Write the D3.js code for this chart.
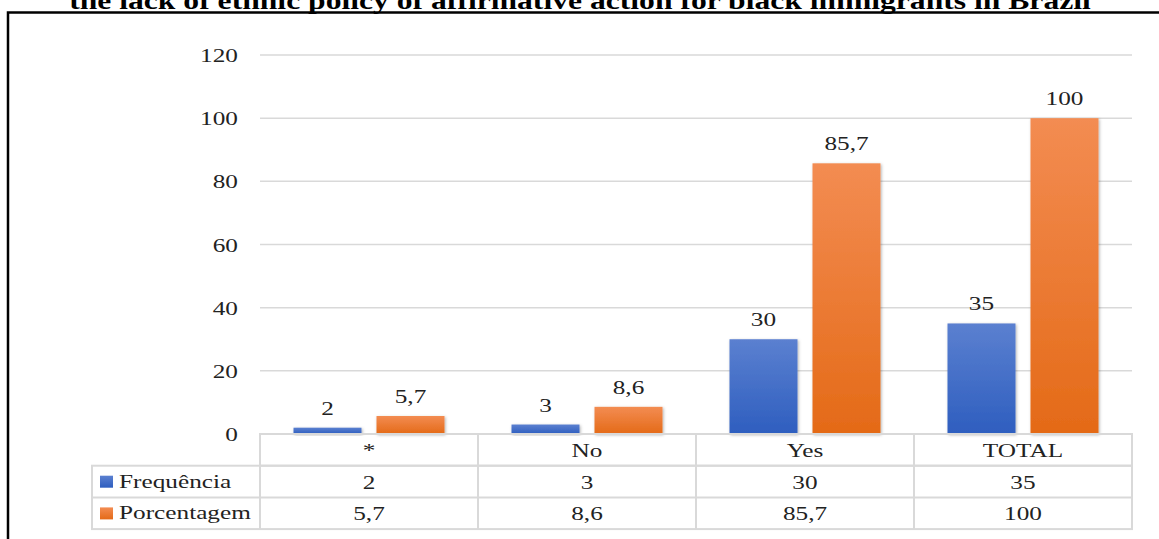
<!DOCTYPE html>
<html>
<head>
<meta charset="utf-8">
<script src="https://cdnjs.cloudflare.com/ajax/libs/d3/7.8.5/d3.min.js"></script>
<style>
  body { margin: 0; background: #fff; }
  text { font-family: "Liberation Serif", "Times New Roman", serif; fill: #222; }
</style>
</head>
<body>
<svg id="chart" width="1159" height="539"></svg>
<script>
// chart values
var categories = ["*", "No", "Yes", "TOTAL"];
var seriesNames = ["Frequência", "Porcentagem"];
var frequencia = [2, 3, 30, 35];
var porcentagem = [5.7, 8.6, 85.7, 100];
var yTicks = [0, 20, 40, 60, 80, 100, 120];
var title = "the lack of ethnic policy of affirmative action for black immigrants in Brazil";

var svg = d3.select("#chart"),
    width = +svg.attr("width"),
    height = +svg.attr("height");

var fmt = function (v) { return String(v).replace(".", ","); };
var series = [frequencia, porcentagem];
var stretch = 1.33; // the original text is drawn wide

// put a text at (fx, fy) and widen it
function place(sel, fx, fy, k) {
    sel.attr("transform", function (d, i) {
        return "translate(" + fx(d, i) + "," + fy(d, i) + ") scale(" + (k || stretch) + ",1)";
    });
}

// gradients for the bars
var defs = svg.append("defs");
var grads = [["#5b80d0", "#2e5ebf"], ["#f38c52", "#e46a17"]];
grads.forEach(function (c, i) {
    var g = defs.append("linearGradient").attr("id", "grad" + i)
        .attr("x1", 0).attr("y1", 0).attr("x2", 0).attr("y2", 1);
    g.append("stop").attr("offset", "0%").attr("stop-color", c[0]);
    g.append("stop").attr("offset", "100%").attr("stop-color", c[1]);
});
var shadow = defs.append("filter").attr("id", "shadow")
    .attr("x", "-20%").attr("y", "-20%").attr("width", "140%").attr("height", "140%");
shadow.append("feDropShadow").attr("dx", 1).attr("dy", 1).attr("stdDeviation", 1.5)
    .attr("flood-color", "#000").attr("flood-opacity", 0.3);

// title, clipped by the top of the page
svg.append("text")
    .attr("text-anchor", "middle")
    .style("font-weight", "bold")
    .style("font-size", "25px")
    .style("fill", "#000")
    .text(title)
    .call(place, function () { return 580; }, function () { return 9; }, 1.265);

// frame
svg.append("path")
    .attr("d", "M8," + height + "V12.5H" + width)
    .attr("fill", "none").attr("stroke", "#000").attr("stroke-width", 2.5);

var plotLeft = 260, plotRight = 1132;
var x = d3.scaleBand().domain(categories).range([plotLeft, plotRight]);
var y = d3.scaleLinear().domain([0, 120]).range([434, 55]);

var barW = 68, gap = 15;

// gridlines
svg.append("g").selectAll("line")
    .data(yTicks.filter(function (d) { return d > 0; }))
    .enter().append("line")
    .attr("x1", plotLeft).attr("x2", plotRight)
    .attr("y1", function (d) { return y(d); })
    .attr("y2", function (d) { return y(d); })
    .attr("stroke", "#d9d9d9").attr("stroke-width", 1.5);

// y tick labels
svg.append("g").selectAll("text")
    .data(yTicks)
    .enter().append("text")
    .attr("text-anchor", "end")
    .style("font-size", "19px")
    .text(function (d) { return d; })
    .call(place, function () { return 238; }, function (d) { return y(d) + 7; });

// bars
var groups = svg.append("g").selectAll("g")
    .data(series)
    .enter().append("g");

function barCenter(d) {
    var c = x(d.c) + x.bandwidth() / 2;
    return d.i === 0 ? c - gap / 2 - barW / 2 : c + gap / 2 + barW / 2;
}
function cells(s, i) {
    return s.map(function (v, j) { return { v: v, c: categories[j], i: i }; });
}

groups.selectAll("rect")
    .data(cells)
    .enter().append("rect")
    .attr("x", function (d) { return barCenter(d) - barW / 2; })
    .attr("y", function (d) { return y(d.v); })
    .attr("width", barW)
    .attr("height", function (d) { return y(0) - y(d.v); })
    .attr("fill", function (d) { return "url(#grad" + d.i + ")"; })
    .attr("filter", "url(#shadow)");

groups.selectAll("text")
    .data(cells)
    .enter().append("text")
    .attr("text-anchor", "middle")
    .style("font-size", "19px")
    .text(function (d) { return fmt(d.v); })
    .call(place, barCenter, function (d) { return y(d.v) - 13; });

// data table
var tableLeft = 92, rowTop = 434, rowH = 31.7;
var table = svg.append("g");
var lineStyle = function (sel) { return sel.attr("stroke", "#d9d9d9").attr("stroke-width", 2).attr("fill", "none"); };

table.append("rect")
    .attr("x", plotLeft).attr("y", rowTop)
    .attr("width", plotRight - plotLeft).attr("height", rowH)
    .call(lineStyle);
table.append("rect")
    .attr("x", tableLeft).attr("y", rowTop + rowH)
    .attr("width", plotRight - tableLeft).attr("height", rowH * 2)
    .call(lineStyle);
table.append("line")
    .attr("x1", tableLeft).attr("x2", plotRight)
    .attr("y1", rowTop + rowH * 2).attr("y2", rowTop + rowH * 2)
    .call(lineStyle);
table.selectAll("line.col")
    .data(categories)
    .enter().append("line").attr("class", "col")
    .attr("x1", function (d) { return x(d); })
    .attr("x2", function (d) { return x(d); })
    .attr("y1", rowTop).attr("y2", rowTop + rowH * 3)
    .call(lineStyle);

var colCenter = function (j) { return x(categories[j]) + x.bandwidth() / 2; };

table.selectAll("text.cat")
    .data(categories)
    .enter().append("text").attr("class", "cat")
    .attr("text-anchor", "middle")
    .style("font-size", "19px")
    .text(function (d) { return d; })
    .call(place, function (d, j) { return colCenter(j); }, function () { return rowTop + 23; });

series.forEach(function (s, i) {
    var ry = rowTop + rowH * (i + 1);
    table.append("rect")
        .attr("x", 100).attr("y", ry + 10)
        .attr("width", 13).attr("height", 12)
        .attr("fill", "url(#grad" + i + ")");
    table.append("text")
        .style("font-size", "19px")
        .text(seriesNames[i])
        .call(place, function () { return 119; }, function () { return ry + 22; });
    table.selectAll("text.v" + i)
        .data(s)
        .enter().append("text").attr("class", "v" + i)
        .attr("text-anchor", "middle")
        .style("font-size", "19px")
        .text(function (d) { return fmt(d); })
        .call(place, function (d, j) { return colCenter(j); }, function () { return ry + 23; });
});
</script>
</body>
</html>
